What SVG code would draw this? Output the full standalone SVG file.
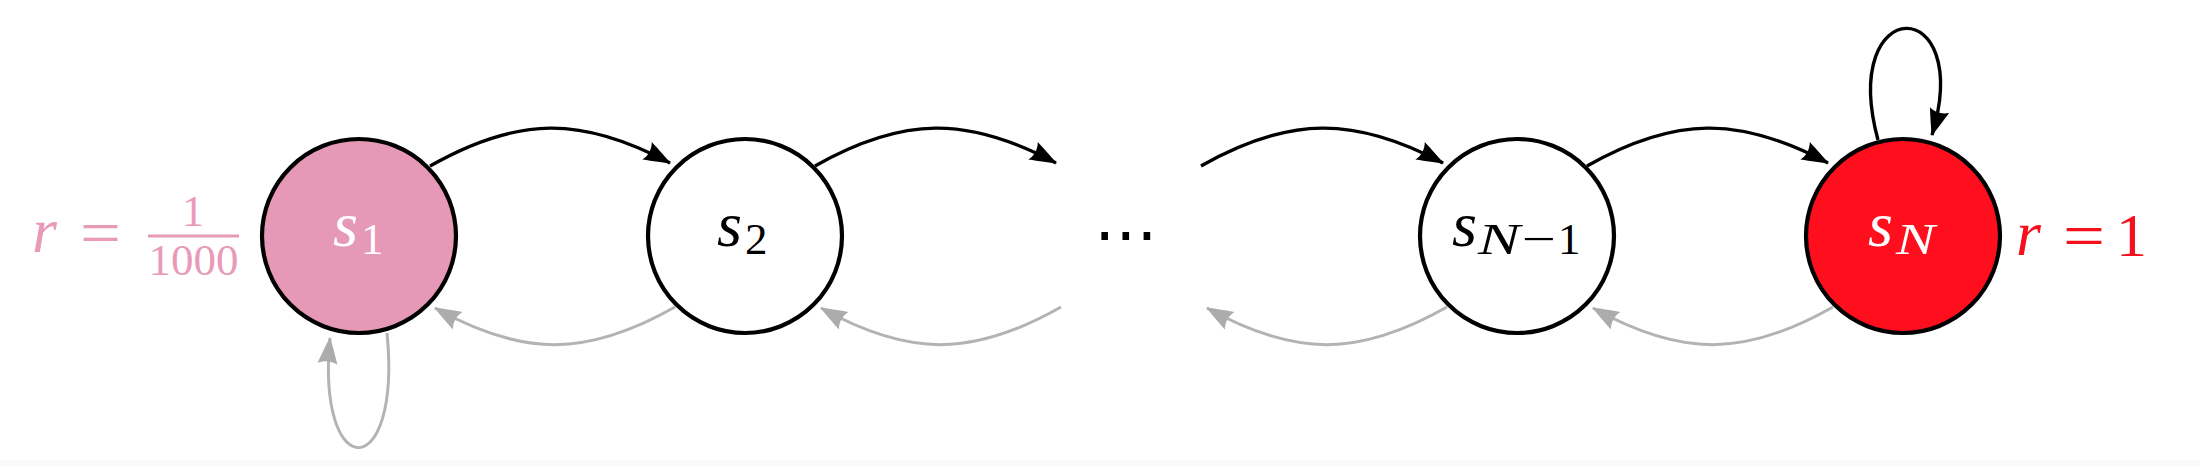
<svg xmlns="http://www.w3.org/2000/svg" width="2200" height="466" viewBox="0 0 2200 466">
<style>
.node{stroke:#000;stroke-width:4.2}
.m{font-family:"Liberation Serif","Times New Roman",serif;font-size:64px}
.it{font-style:italic}
.sub{font-size:45px}
.frac{font-size:44px}
.big{font-size:62px}
.fw{fill:none;stroke:#000;stroke-width:3.4;marker-end:url(#ahk)}
.bk{fill:none;stroke:#b3b3b3;stroke-width:3;marker-end:url(#ahg)}
.w{fill:#fff}
.k{fill:#000}
.pink{fill:#E89AB8}
.red{fill:#F5101E}
</style>
<defs>
<marker id="ahk" markerUnits="userSpaceOnUse" viewBox="-28 -11 30 22" refX="-1" refY="0" markerWidth="30" markerHeight="22" orient="auto">
<path d="M0,0 C-7,-2.8 -17,-6.5 -27,-10 C-23.5,-3.5 -23.5,3.5 -27,10 C-17,6.5 -7,2.8 0,0 Z" fill="#000"/>
</marker>
<marker id="ahg" markerUnits="userSpaceOnUse" viewBox="-28 -11 30 22" refX="-1" refY="0" markerWidth="30" markerHeight="22" orient="auto">
<path d="M0,0 C-7,-2.8 -17,-6.5 -27,-10 C-23.5,-3.5 -23.5,3.5 -27,10 C-17,6.5 -7,2.8 0,0 Z" fill="#acacac"/>
</marker>
</defs>
<rect x="0" y="0" width="2200" height="466" fill="#fff"/>
<rect x="0" y="460" width="2200" height="6" fill="#f9f9f9"/>

<g id="connectors">
<path class="fw" d="M430,166 C518,116 582,116 670,163"/>
<path class="fw" d="M815,166 C903,116 968,116 1056,163"/>
<path class="fw" d="M1201,166 C1289,116 1355,116 1443,163"/>
<path class="fw" d="M1587,166 C1675,116 1740,116 1828,163"/>
<path class="bk" d="M675,307 C587,357 523,357 435,308"/>
<path class="bk" d="M1061,307 C973,357 909,357 821,308"/>
<path class="bk" d="M1447,307 C1359,357 1295,357 1207,308"/>
<path class="bk" d="M1833,307 C1745,357 1681,357 1593,308"/>
<path class="bk" d="M387,333 C402,485 316,485 330,338"/>
<path class="fw" d="M1878,140 C1838,-8 1975,-8 1932,135"/>
</g>

<g id="s1">
<circle class="node" cx="359" cy="236" r="97" fill="#E699B6"/>
<text class="m w"><tspan class="it" x="333" y="246" textLength="25" lengthAdjust="spacingAndGlyphs">s</tspan><tspan class="sub" x="361" y="254">1</tspan></text>
</g>
<g id="s2">
<circle class="node" cx="745" cy="236" r="97" fill="#fff"/>
<text class="m k"><tspan class="it" x="717" y="246" textLength="25" lengthAdjust="spacingAndGlyphs">s</tspan><tspan class="sub" x="745" y="254">2</tspan></text>
</g>
<g id="dots">
<text x="1126" y="256" text-anchor="middle" font-family="DejaVu Sans, sans-serif" font-size="64" fill="#000">⋯</text>
</g>
<g id="sN-1">
<circle class="node" cx="1517" cy="236" r="97" fill="#fff"/>
<text class="m k"><tspan class="it" x="1452" y="246" textLength="25" lengthAdjust="spacingAndGlyphs">s</tspan><tspan class="sub it" x="1478" y="254" textLength="42" lengthAdjust="spacingAndGlyphs">N</tspan><tspan class="sub" x="1522" y="254" textLength="34" lengthAdjust="spacingAndGlyphs">−</tspan><tspan class="sub" x="1558" y="254">1</tspan></text>
</g>
<g id="sN">
<circle class="node" cx="1903" cy="236" r="97" fill="#FF0F1E"/>
<text class="m w"><tspan class="it" x="1868" y="246" textLength="25" lengthAdjust="spacingAndGlyphs">s</tspan><tspan class="sub it" x="1896" y="254" textLength="39" lengthAdjust="spacingAndGlyphs">N</tspan></text>
</g>

<g id="label-s1">
<text class="m it pink" x="32" y="252">r</text>
<text class="m pink" x="80" y="254" textLength="41" lengthAdjust="spacingAndGlyphs">=</text>
<text class="m frac pink" x="193" y="226" text-anchor="middle">1</text>
<line x1="148" y1="236" x2="239" y2="236" stroke="#E89AB8" stroke-width="2.8"/>
<text class="m frac pink" x="193.5" y="275" text-anchor="middle" textLength="90" lengthAdjust="spacingAndGlyphs">1000</text>
</g>
<g id="label-sN">
<text class="m it red" x="2016" y="255">r</text>
<text class="m red" x="2063" y="257" textLength="42" lengthAdjust="spacingAndGlyphs">=</text>
<text class="m big red" x="2116" y="256">1</text>
</g>
</svg>
